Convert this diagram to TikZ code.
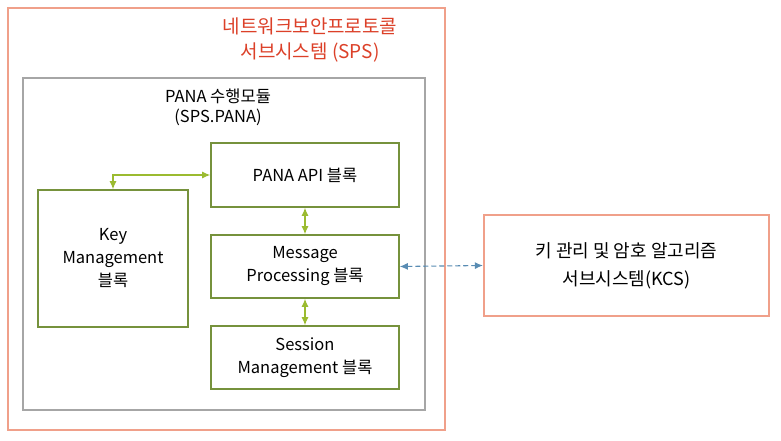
\documentclass[tikz,border=0pt]{standalone}
\usepackage{fontspec}
\setmainfont{Noto Sans CJK KR}
\usetikzlibrary{arrows.meta}
\definecolor{salmon}{HTML}{F0A08A}
\definecolor{grayb}{HTML}{A6A6A6}
\definecolor{olive}{HTML}{76923C}
\definecolor{lgreen}{HTML}{9BBB30}
\definecolor{bluea}{HTML}{4F8FC0}
\definecolor{titlered}{HTML}{DC4028}
\tikzset{
  blk/.style={draw=olive, line width=1.6pt, align=center, font=\fontsize{16.5}{23}\selectfont, inner sep=0pt},
  garrow/.style={draw=lgreen, line width=1.2pt, {Latex[length=8pt,width=7pt]}-{Latex[length=8pt,width=7pt]}},
}
\begin{document}
\begin{tikzpicture}[x=1pt,y=-1pt]
\useasboundingbox (0,0) rectangle (781,441);
\fill[white] (0,0) rectangle (781,441);
\draw[salmon, line width=2.2pt] (8,8) rectangle (445,430);
\draw[grayb, line width=2.2pt] (23,78) rectangle (425,410);
\node[font=\fontsize{19}{25}\selectfont, text=titlered, align=center] (title) at (310,40) {네트워크보안프로토콜\\서브시스템 (SPS)};
\node[font=\fontsize{16.5}{20}\selectfont, align=center] (pana) at (218,107) {PANA 수행모듈\\(SPS.PANA)};
\node[blk, minimum width=150, minimum height=137] (key) at (113,258.5) {Key\\Management\\블록};
\node[blk, minimum width=188, minimum height=64] (api) at (305,175) {PANA API 블록};
\node[blk, minimum width=188, minimum height=63] (mp) at (305,266.5) {Message\\Processing 블록};
\node[blk, minimum width=188, minimum height=63] (sm) at (305,357.5) {Session\\Management 블록};
\node[draw=salmon, line width=2.2pt, minimum width=285, minimum height=101, align=center, font=\fontsize{18}{28}\selectfont] (kcs) at (626.5,265.5) {키 관리 및 암호 알고리즘\\서브시스템(KCS)};
\draw[garrow] (key.north) |- (api.west);
\draw[garrow] (api.south) -- (mp.north);
\draw[garrow] (mp.south) -- (sm.north);
\draw[draw=bluea!80!gray, line width=1.1pt, dash pattern=on 5pt off 3pt, {Latex[length=8pt,width=7pt]}-{Latex[length=8pt,width=7pt]}] (mp.east) -- (kcs.west);
\end{tikzpicture}
\end{document}
